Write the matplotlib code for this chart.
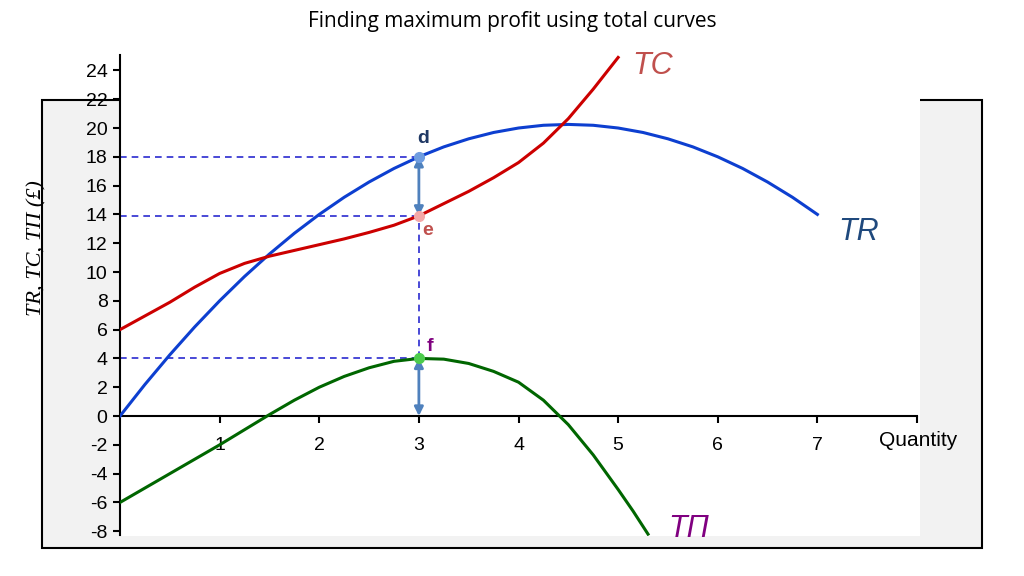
import matplotlib.pyplot as plt
from matplotlib.patches import Rectangle

# values
q_tr = [0, 0.25, 0.5, 0.75, 1, 1.25, 1.5, 1.75, 2, 2.25, 2.5, 2.75, 3, 3.25, 3.5,
        3.75, 4, 4.25, 4.5, 4.75, 5, 5.25, 5.5, 5.75, 6, 6.25, 6.5, 6.75, 7]
tr = [0, 2.19, 4.25, 6.19, 8, 9.69, 11.25, 12.69, 14, 15.19, 16.25, 17.19, 18, 18.69, 19.25,
      19.69, 20, 20.19, 20.25, 20.19, 20, 19.69, 19.25, 18.69, 18, 17.19, 16.25, 15.19, 14]

q_tc = [0, 0.25, 0.5, 0.75, 1, 1.25, 1.5, 1.75, 2, 2.25, 2.5, 2.75, 3, 3.25, 3.5,
        3.75, 4, 4.25, 4.5, 4.75, 5]
tc = [6, 6.95, 7.9, 8.95, 9.9, 10.6, 11.1, 11.5, 11.9, 12.3, 12.75, 13.25, 13.9, 14.75, 15.6,
      16.55, 17.6, 18.95, 20.65, 22.7, 24.9]

q_tp = [0, 0.25, 0.5, 0.75, 1, 1.25, 1.5, 1.75, 2, 2.25, 2.5, 2.75, 3, 3.25, 3.5,
        3.75, 4, 4.25, 4.5, 4.75, 5, 5.15, 5.3]
tp = [-6, -5.0, -4.0, -3.0, -2.0, -0.95, 0.1, 1.1, 2.0, 2.75, 3.35, 3.8, 4.0, 3.95, 3.65,
      3.1, 2.35, 1.1, -0.6, -2.7, -5.1, -6.6, -8.2]

q_best = 3
d_val, e_val, f_val = 18, 13.9, 4

y_ticks = list(range(-8, 25, 2))
x_ticks = [1, 2, 3, 4, 5, 6, 7, 8]
x_labels = ['1', '2', '3', '4', '5', '6', '7', '']

plt.rcParams['font.family'] = ['Liberation Sans', 'DejaVu Sans']
plt.rcParams['axes.unicode_minus'] = False

fig = plt.figure(figsize=(10.24, 5.76), dpi=100)

# grey framed panel behind the chart
box = Rectangle((42/1024, 1-548/576), 940/1024, 448/576, transform=fig.transFigure,
                facecolor='#f2f2f2', edgecolor='black', lw=1.5, zorder=-1)
fig.patches.append(box)

ax = fig.add_axes([120/1024, 1-536/576, 800/1024, 481/576])
ax.set_facecolor('white')
ax.set_xlim(0, 8.03)
ax.set_ylim(-8.33, 25.07)

ax.plot(q_tr, tr, color='#0d3fd0', lw=2.2, zorder=3, solid_joinstyle='round')
ax.plot(q_tc, tc, color='#cc0000', lw=2.2, zorder=3, solid_joinstyle='round')
ax.plot(q_tp, tp, color='#006600', lw=2.2, zorder=3, solid_joinstyle='round')

# dashed guides
dash = dict(color='#2a2ad0', lw=1.2, dashes=(4, 3), zorder=2)
for v in [d_val, e_val, f_val]:
    ax.plot([0, q_best], [v, v], **dash)
ax.plot([q_best, q_best], [f_val, e_val], **dash)

# double arrows
arr = dict(arrowstyle='<|-|>', color='#4f81bd', lw=2, shrinkA=0, shrinkB=0, mutation_scale=13)
ax.annotate('', xy=(q_best, e_val), xytext=(q_best, d_val), arrowprops=arr, zorder=4)
ax.annotate('', xy=(q_best, 0), xytext=(q_best, f_val), arrowprops=arr, zorder=4)

ax.plot([q_best], [d_val], 'o', color='#6f9de0', ms=7, zorder=5)
ax.plot([q_best], [e_val], 'o', color='#f4a8a8', ms=7, zorder=5)
ax.plot([q_best], [f_val], 'o', color='#4ccc4c', ms=7, zorder=5)

ax.text(3.04, 19.3, 'd', color='#1f3864', fontsize=14, fontweight='bold', ha='center', va='center')
ax.text(3.09, 12.85, 'e', color='#c0504d', fontsize=14, fontweight='bold', ha='center', va='center')
ax.text(3.11, 4.8, 'f', color='#7f007f', fontsize=14, fontweight='bold', ha='center', va='center')

ax.text(5.35, 24.3, 'TC', color='#c0504d', fontsize=22, style='italic', ha='center', va='center')
ax.text(7.41, 12.8, 'TR', color='#1f497d', fontsize=22, style='italic', ha='center', va='center')
ax.text(5.71, -7.85, 'TΠ', color='#800080', fontsize=22, style='italic', ha='center', va='center')
ax.text(7.62, -1.7, 'Quantity', fontsize=15, ha='left', va='center')

# axes styling
for s in ['top', 'right']:
    ax.spines[s].set_visible(False)
ax.spines['bottom'].set_position(('data', 0))
ax.spines['bottom'].set_bounds(0, 8)
ax.spines['left'].set_bounds(-8.26, 25.07)
for s in ['bottom', 'left']:
    ax.spines[s].set_linewidth(1.5)

ax.set_yticks(y_ticks)
ax.set_xticks(x_ticks)
ax.set_xticklabels(x_labels)
ax.tick_params(axis='y', direction='out', length=5, width=1.5, labelsize=14, pad=4)
ax.tick_params(axis='x', direction='out', length=5, width=1.5, labelsize=14, pad=10)

fig.text(37/1024, 1-248/576, 'TR, TC, TΠ (£)', rotation=90, fontsize=16, style='italic',
         family=['Liberation Serif', 'DejaVu Serif'], ha='center', va='center')
fig.text(0.5, 1-22/576, 'Finding maximum profit using total curves', fontsize=15,
         family=['Open Sans', 'DejaVu Sans'], ha='center', va='center')

fig.savefig('out.png', dpi=100)
